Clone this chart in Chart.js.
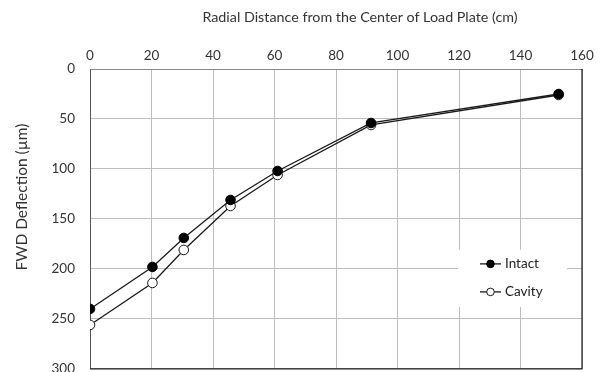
<!DOCTYPE html>
<html>
<head>
<meta charset="utf-8">
<script src="https://cdn.jsdelivr.net/npm/chart.js@4"></script>
<style>
  html, body { margin: 0; padding: 0; background: #fff; overflow: hidden; }
  #wrap { width: 604px; height: 392px; }
</style>
</head>
<body>
<div id="wrap"><canvas id="deflChart" width="604" height="392"></canvas></div>
<script>
// sensor offsets (cm) and measured deflections (µm)
const distances = [0, 20.3, 30.5, 45.7, 61.0, 91.4, 152.4];
const intact = [240, 198, 169, 131, 102, 54, 25];
const cavity = [256, 214, 181, 137, 106, 56, 26];
const xTicks = [0, 20, 40, 60, 80, 100, 120, 140, 160];
const yTicks = [0, 50, 100, 150, 200, 250, 300];

const FONT = "Lato, 'Open Sans', sans-serif";
const xTitle = "Radial Distance from the Center of Load Plate (cm)";
const yTitle = "FWD Deflection (µm)";

function toPoints(ys) {
  return distances.map((x, i) => ({ x: x, y: ys[i] }));
}

// legend box drawn inside the plot area, lower right
const innerLegend = {
  id: "innerLegend",
  afterDraw(chart) {
    const ctx = chart.ctx;
    const area = chart.chartArea;
    const right = area.right - 15;
    const bottom = area.bottom - 62;
    const w = 109, h = 57;
    const left = right - w, top = bottom - h;
    ctx.save();
    ctx.fillStyle = "#fff";
    ctx.fillRect(left, top, w, h);
    chart.data.datasets.forEach((ds, i) => {
      const y = top + 14 + i * 28;
      const x0 = left + 22;
      ctx.strokeStyle = ds.borderColor;
      ctx.lineWidth = 1.3;
      ctx.beginPath();
      ctx.moveTo(x0, y);
      ctx.lineTo(x0 + 21, y);
      ctx.stroke();
      ctx.beginPath();
      ctx.arc(x0 + 10.5, y, 3.8, 0, Math.PI * 2);
      ctx.fillStyle = ds.pointBackgroundColor;
      ctx.fill();
      ctx.lineWidth = 1;
      ctx.strokeStyle = ds.pointBorderColor;
      ctx.stroke();
      ctx.fillStyle = "#222";
      ctx.font = "13.5px " + FONT;
      ctx.textBaseline = "middle";
      ctx.fillText(ds.label, x0 + 25, y);
    });
    ctx.restore();
  }
};

// right and bottom frame of the plot area, plus both axis titles
const frame = {
  id: "frame",
  afterDatasetsDraw(chart) {
    const ctx = chart.ctx;
    const a = chart.chartArea;
    ctx.save();
    ctx.strokeStyle = "#1a1a1a";
    ctx.lineWidth = 1.2;
    ctx.beginPath();
    ctx.moveTo(a.left, a.bottom);
    ctx.lineTo(a.right, a.bottom);
    ctx.lineTo(a.right, a.top);
    ctx.stroke();
    ctx.restore();

    ctx.save();
    ctx.fillStyle = "#333";
    ctx.textAlign = "center";
    ctx.textBaseline = "middle";
    ctx.font = "14.3px " + FONT;
    ctx.fillText(xTitle, 360, 17);
    ctx.translate(22, 197);
    ctx.rotate(-Math.PI / 2);
    ctx.font = "15.5px " + FONT;
    ctx.fillText(yTitle, 0, 0);
    ctx.restore();
  }
};

new Chart(document.getElementById("deflChart"), {
  type: "scatter",
  data: {
    datasets: [
      {
        label: "Intact",
        data: toPoints(intact),
        showLine: true,
        borderColor: "#1a1a1a",
        borderWidth: 1.3,
        pointRadius: 4.8,
        pointBackgroundColor: "#000",
        pointBorderColor: "#000",
        pointBorderWidth: 1
      },
      {
        label: "Cavity",
        data: toPoints(cavity),
        showLine: true,
        borderColor: "#1a1a1a",
        borderWidth: 1.3,
        pointRadius: 4.8,
        pointBackgroundColor: "#fff",
        pointBorderColor: "#1a1a1a",
        pointBorderWidth: 1
      }
    ]
  },
  options: {
    responsive: false,
    animation: false,
    layout: { padding: { left: 0, right: 22, top: 0, bottom: 19 } },
    plugins: {
      legend: { display: false },
      tooltip: { enabled: false }
    },
    scales: {
      x: {
        type: "linear",
        position: "top",
        min: 0,
        max: 160,
        afterBuildTicks: (s) => { s.ticks = xTicks.map(v => ({ value: v })); },
        afterFit: (s) => { s.height = 69; },
        ticks: { color: "#333", font: { family: FONT, size: 13.5 }, padding: 5 },
        grid: { color: "#bdbdbd", lineWidth: 1, drawTicks: false },
        border: { color: "#8a8a8a", width: 1 },
        title: { display: false }
      },
      y: {
        type: "linear",
        reverse: true,
        min: 0,
        max: 300,
        afterBuildTicks: (s) => { s.ticks = yTicks.map(v => ({ value: v })); },
        afterFit: (s) => { s.width = 90; },
        ticks: { color: "#333", font: { family: FONT, size: 13.5 }, padding: 15 },
        grid: { color: "#bdbdbd", lineWidth: 1, drawTicks: false },
        border: { color: "#555", width: 1 },
        title: { display: false }
      }
    }
  },
  plugins: [frame, innerLegend]
});
</script>
</body>
</html>
